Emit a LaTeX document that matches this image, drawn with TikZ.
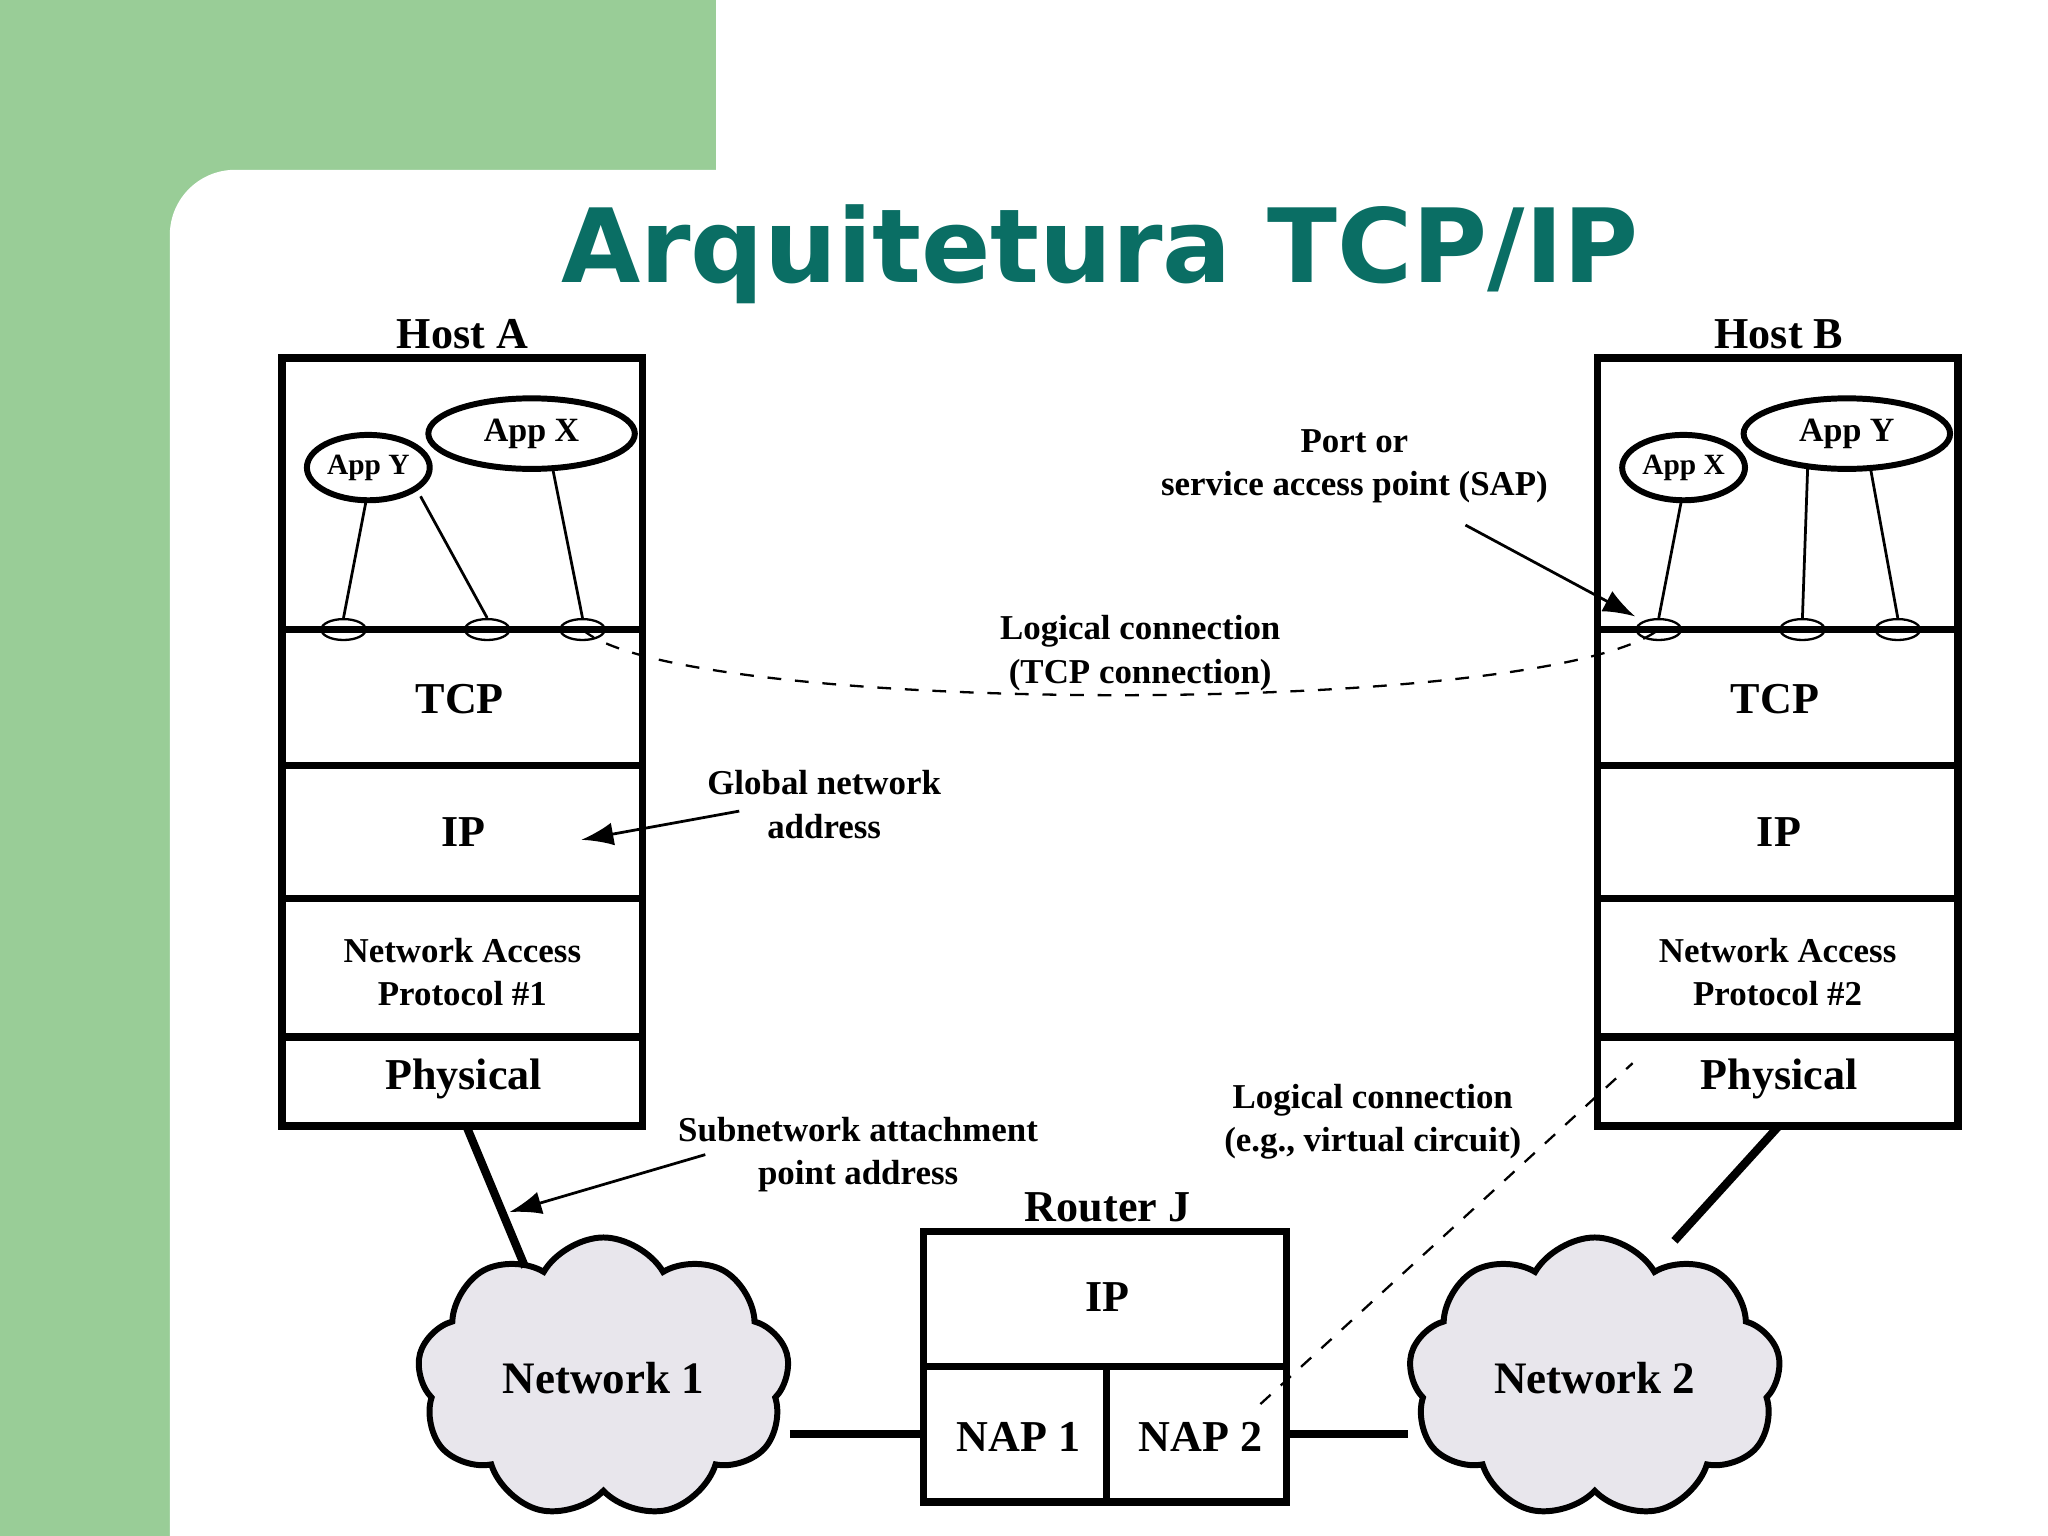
\documentclass[tikz,border=0pt]{standalone}
\usepackage{fontspec}
\setmainfont{Liberation Serif}
\newfontfamily\titlef{DejaVu Sans}
\usetikzlibrary{shapes.symbols,shapes.geometric,arrows.meta}
\definecolor{bggreen}{RGB}{153,205,151}
\definecolor{teal}{RGB}{10,110,100}
\definecolor{cloudg}{RGB}{232,230,236}
\begin{document}
\begin{tikzpicture}[x=0.01cm,y=-0.01cm,
 box/.style={draw,line width=1.6pt},
 big/.style={font=\fontsize{9.6}{11}\selectfont\bfseries},
 mid/.style={font=\fontsize{9.6}{11}\selectfont\bfseries},
 lab/.style={font=\fontsize{7.6}{9.4}\selectfont\bfseries,align=center},
 app/.style={draw,ellipse,line width=1.3pt,inner sep=0pt},
 sap/.style={draw,ellipse,line width=0.5pt,minimum width=0.34cm,minimum height=0.16cm,inner sep=0pt},
 arr/.style={-{Latex[length=7pt,width=5pt]},line width=0.6pt},
 cl/.style={cloud,cloud puffs=9,cloud puff arc=120,draw,line width=1.3pt,fill=cloudg,aspect=1.3,minimum width=2.85cm,minimum height=2.15cm}]
\useasboundingbox (0,0) rectangle (1568,1176);
\fill[bggreen] (0,0) rectangle (1568,1176);
\fill[white,rounded corners=0.5cm] (130,1300) rectangle (1700,130);
\fill[white] (548,0) rectangle (1568,140);
\node[font=\titlef\fontsize{22.3}{26}\selectfont\bfseries,text=teal] (title) at (842,195) {Arquitetura TCP/IP};
% Host A
\draw[box] (216,274) rectangle (492,862);
\draw[line width=1.6pt] (216,482)--(492,482) (216,586)--(492,586) (216,688)--(492,688) (216,794)--(492,794);
\node[mid] (ha) at (354,256) {Host A};
\node[big] (tcpa) at (352,535) {TCP};
\node[big] (ipa) at (355,637) {IP};
\node[lab] (napa) at (354,744) {Network Access\\Protocol \#1};
\node[big] (pha) at (355,826) {Physical};
\node[app,minimum width=0.94cm,minimum height=0.5cm,font=\fontsize{6.4}{8}\selectfont\bfseries] (aya) at (282,358) {App Y};
\node[app,minimum width=1.58cm,minimum height=0.54cm,font=\fontsize{7.4}{8}\selectfont\bfseries] (axa) at (407,332) {App X};
\node[sap] (s1) at (263,482) {};
\node[sap] (s2) at (373,482) {};
\node[sap] (s3) at (446,482) {};
\draw[line width=0.6pt] (280,385)--(s1.north) (322,380)--(s2.north) (423,358)--(s3.north);
% Host B
\draw[box] (1223,274) rectangle (1499,862);
\draw[line width=1.6pt] (1223,482)--(1499,482) (1223,586)--(1499,586) (1223,688)--(1499,688) (1223,794)--(1499,794);
\node[mid] (hb) at (1362,256) {Host B};
\node[big] (tcpb) at (1359,535) {TCP};
\node[big] (ipb) at (1362,637) {IP};
\node[lab] (napb) at (1361,744) {Network Access\\Protocol \#2};
\node[big] (phb) at (1362,826) {Physical};
\node[app,minimum width=0.94cm,minimum height=0.5cm,font=\fontsize{6.4}{8}\selectfont\bfseries] (axb) at (1289,358) {App X};
\node[app,minimum width=1.58cm,minimum height=0.54cm,font=\fontsize{7.4}{8}\selectfont\bfseries] (ayb) at (1414,332) {App Y};
\node[sap] (t1) at (1270,482) {};
\node[sap] (t2) at (1380,482) {};
\node[sap] (t3) at (1453,482) {};
\draw[line width=0.6pt] (1287,385)--(t1.north) (1384,358)--(t2.north) (1432,358)--(t3.north);
% logical TCP connection
\draw[dashed,line width=0.5pt] (s3.center) .. controls (520,548) and (1180,550) .. (t1.center);
\node[lab] (lc) at (873,500) {Logical connection\\(TCP connection)};
\node[lab] (port) at (1037,357) {Port or\\service access point (SAP)};
\coordinate (pa) at (1122,402);
\draw[arr] (pa) -- (1252,472);
\node[lab] (gna) at (631,616) {Global network\\address};
\coordinate (ga) at (566,621);
\draw[arr] (ga) -- (445,643);
% clouds
\node[cl] (n1) at (462,1055) {};
\node[mid,font=\fontsize{9.8}{11}\selectfont\bfseries] at (n1.center) {Network 1};
\node[cl] (n2) at (1221,1055) {};
\node[mid,font=\fontsize{9.8}{11}\selectfont\bfseries] at (n2.center) {Network 2};
\draw[line width=1.8pt] (357,862)--(402,970);
\draw[line width=1.8pt] (1362,862)--(1282,950);
\node[lab] (sub) at (657,884) {Subnetwork attachment\\point address};
\coordinate (sa) at (540,884);
\draw[arr] (sa) -- (390,928);
% Router
\node[mid] (rj) at (848,924) {Router J};
\draw[box] (707,943) rectangle (985,1150);
\draw[line width=1.6pt] (707,1046)--(985,1046) (847,1046)--(847,1150);
\node[big] (ipr) at (848,993) {IP};
\node[big] (nap1) at (780,1100) {NAP 1};
\node[big] (nap2) at (919,1100) {NAP 2};
\draw[line width=1.6pt] (n1.east |- 0,1098)--(707,1098) (985,1098)--(n2.west |- 0,1098);
\node[lab] (lvc) at (1051,859) {Logical connection\\(e.g., virtual circuit)};
\coordinate (v1) at (965,1075);
\coordinate (v2) at (1250,814);
\draw[dashed,line width=0.5pt] (v1)--(v2);
\end{tikzpicture}
\end{document}
